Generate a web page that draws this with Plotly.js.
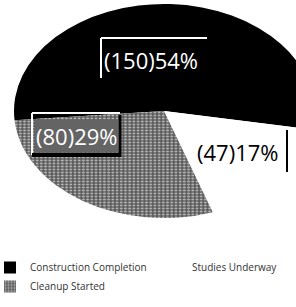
<!DOCTYPE html>
<html><head><meta charset="utf-8">
<script src="https://cdn.plot.ly/plotly-3.0.1.min.js"></script>
<style>html,body{margin:0;padding:0;background:#fff;overflow:hidden}#c{width:296px;height:307px;overflow:hidden}</style>
</head><body><div id="c"></div>
<script>
const categories = ['Construction Completion', 'Studies Underway', 'Cleanup Started'];
const counts = [150, 47, 80];
const sliceColors = ['#000000', '#ffffff', '#707070'];

const total = counts.reduce((a, b) => a + b, 0);
const labelTexts = counts.map(v => '(' + v + ')' + Math.round(v / total * 100) + '%');

// layout geometry (pixels); layout is a bit wider than the window so the legend gets room
const LW = 320, H = 307, MB = 60, PH = H - MB;
const cx = 164, cy = 111, ry = 107, rx = 150;
const px = x => x / LW, py = y => (PH - y) / PH;

const trace = {
  type: 'pie',
  labels: categories,
  values: counts,
  sort: false,
  direction: 'clockwise',
  rotation: -95,
  textinfo: 'none',
  hoverinfo: 'none',
  marker: {
    colors: sliceColors,
    line: {width: 0},
    pattern: {shape: ['', '', '.'], size: 3, solidity: 0.4, bgcolor: ['#000000', '#ffffff', '#5c5c5c'], fgcolor: '#c8c8c8', fgopacity: 0.8}
  },
  domain: {x: [px(cx - ry), px(cx + ry)], y: [py(cy + ry), py(cy - ry)]}
};

const labelStyle = [
  {x: 151, y: 60, color: '#ffffff', bg: 'rgba(0,0,0,0)'},
  {x: 237, y: 152, color: '#000000', bg: '#ffffff'},
  {x: 76, y: 136, color: '#ffffff', bg: '#646464'}
];

const annotations = labelTexts.map((t, i) => ({
  text: t, xref: 'paper', yref: 'paper',
  x: px(labelStyle[i].x), y: py(labelStyle[i].y),
  showarrow: false, xanchor: 'center', yanchor: 'middle',
  font: {family: 'Open Sans', size: 22, color: labelStyle[i].color},
  bgcolor: labelStyle[i].bg, borderpad: 1
}));

// decorative bevel lines around label boxes, pixel coords [x0,y0,x1,y1,color,width]
const bevels = [
  [101, 38, 101, 78, '#ffffff', 2], [101, 38, 207, 38, '#ffffff', 2],
  [287, 130, 287, 172, '#000000', 2],
  [32, 113, 32, 155, '#ffffff', 2], [32, 113, 120, 113, '#ffffff', 2],
  [32, 155, 121, 155, '#000000', 4], [120, 115, 120, 157, '#000000', 3]
];
const shapes = bevels.map(b => ({
  type: 'line', xref: 'paper', yref: 'paper',
  x0: px(b[0]), y0: py(b[1]), x1: px(b[2]), y1: py(b[3]),
  line: {color: b[4], width: b[5]}
}));

const layout = {
  width: LW, height: H,
  margin: {l: 0, r: 0, t: 0, b: MB, autoexpand: false},
  paper_bgcolor: '#ffffff',
  showlegend: true,
  legend: {
    orientation: 'h', x: -10 / LW, xanchor: 'left', y: py(253), yanchor: 'top',
    entrywidth: 117, entrywidthmode: 'pixels', itemwidth: 30,
    font: {family: 'Open Sans', size: 10, color: '#333333'},
    traceorder: 'normal'
  },
  annotations: annotations,
  shapes: shapes
};

Plotly.newPlot('c', [trace], layout, {staticPlot: true}).then(gd => {
  const pl = gd.querySelector('.pielayer');
  if (pl) pl.setAttribute('transform', 'translate(' + cx + ',0) scale(' + (rx / ry) + ',1) translate(' + (-cx) + ',0)');
});
</script>
</body></html>
